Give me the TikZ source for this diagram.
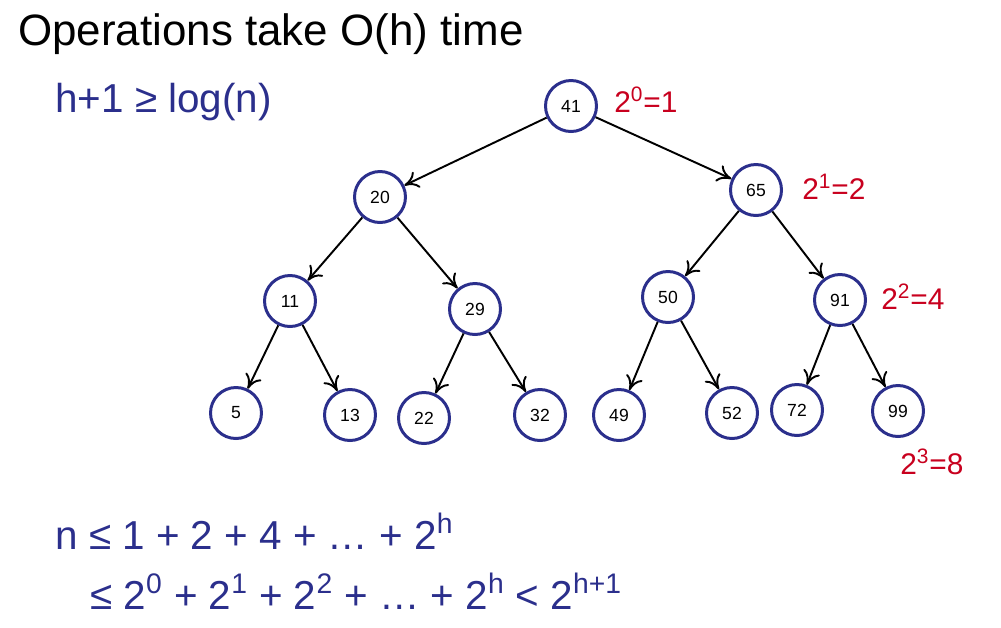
\documentclass[tikz,border=0pt]{standalone}
\usepackage{fontspec}
\setmainfont{Liberation Sans}
\usetikzlibrary{arrows.meta}
\definecolor{navy}{RGB}{43,47,140}
\definecolor{levelred}{RGB}{200,0,30}
\begin{document}
\begin{tikzpicture}[x=0.02cm, y=-0.02cm,
  key/.style={circle, draw=navy, line width=1.7pt, minimum size=1.02cm, inner sep=0pt, font=\fontsize{10}{12}\selectfont},
  count/.style={text=levelred, inner sep=0pt, anchor=west, font=\fontsize{17}{20}\selectfont},
  bound/.style={text=navy, inner sep=0pt, anchor=base west, font=\fontsize{23}{27}\selectfont},
  link/.style={-{To[length=8pt,width=10pt]}, line width=1.1pt}]
\useasboundingbox (0,0) rectangle (1001,627);
\node[inner sep=0pt, anchor=base west, font=\fontsize{25}{30}\selectfont] (title) at (18,45) {Operations take O(h) time};
\node[bound] (height) at (55,112) {h+1 ≥ log(n)};
% the tree
\node[key] (n41) at (571,106) {41};
\node[key] (n20) at (380,197) {20};
\node[key] (n65) at (756,190) {65};
\node[key] (n11) at (290,301) {11};
\node[key] (n29) at (475,309) {29};
\node[key] (n50) at (668,297) {50};
\node[key] (n91) at (840,300) {91};
\node[key] (n5) at (236,413) {5};
\node[key] (n13) at (350,415) {13};
\node[key] (n22) at (424,418) {22};
\node[key] (n32) at (540,415) {32};
\node[key] (n49) at (619,415) {49};
\node[key] (n52) at (732,413) {52};
\node[key] (n72) at (797,410) {72};
\node[key] (n99) at (898,411) {99};
\draw[link] (n41) -- (n20);
\draw[link] (n41) -- (n65);
\draw[link] (n20) -- (n11);
\draw[link] (n20) -- (n29);
\draw[link] (n65) -- (n50);
\draw[link] (n65) -- (n91);
\draw[link] (n11) -- (n5);
\draw[link] (n11) -- (n13);
\draw[link] (n29) -- (n22);
\draw[link] (n29) -- (n32);
\draw[link] (n50) -- (n49);
\draw[link] (n50) -- (n52);
\draw[link] (n91) -- (n72);
\draw[link] (n91) -- (n99);
% nodes per level
\node[count] (lvl0) at (614,100) {2\textsuperscript{0}=1};
\node[count] (lvl1) at (802,187) {2\textsuperscript{1}=2};
\node[count] (lvl2) at (881,297) {2\textsuperscript{2}=4};
\node[count] (lvl3) at (900,462) {2\textsuperscript{3}=8};
% bounds on n
\node[bound] (sum1) at (55,549) {n ≤ 1 + 2 + 4 + … + 2\textsuperscript{h}};
\node[bound] (sum2) at (90,609) {≤ 2\textsuperscript{0} + 2\textsuperscript{1} + 2\textsuperscript{2} + … + 2\textsuperscript{h} < 2\textsuperscript{h+1}};
\end{tikzpicture}
\end{document}
